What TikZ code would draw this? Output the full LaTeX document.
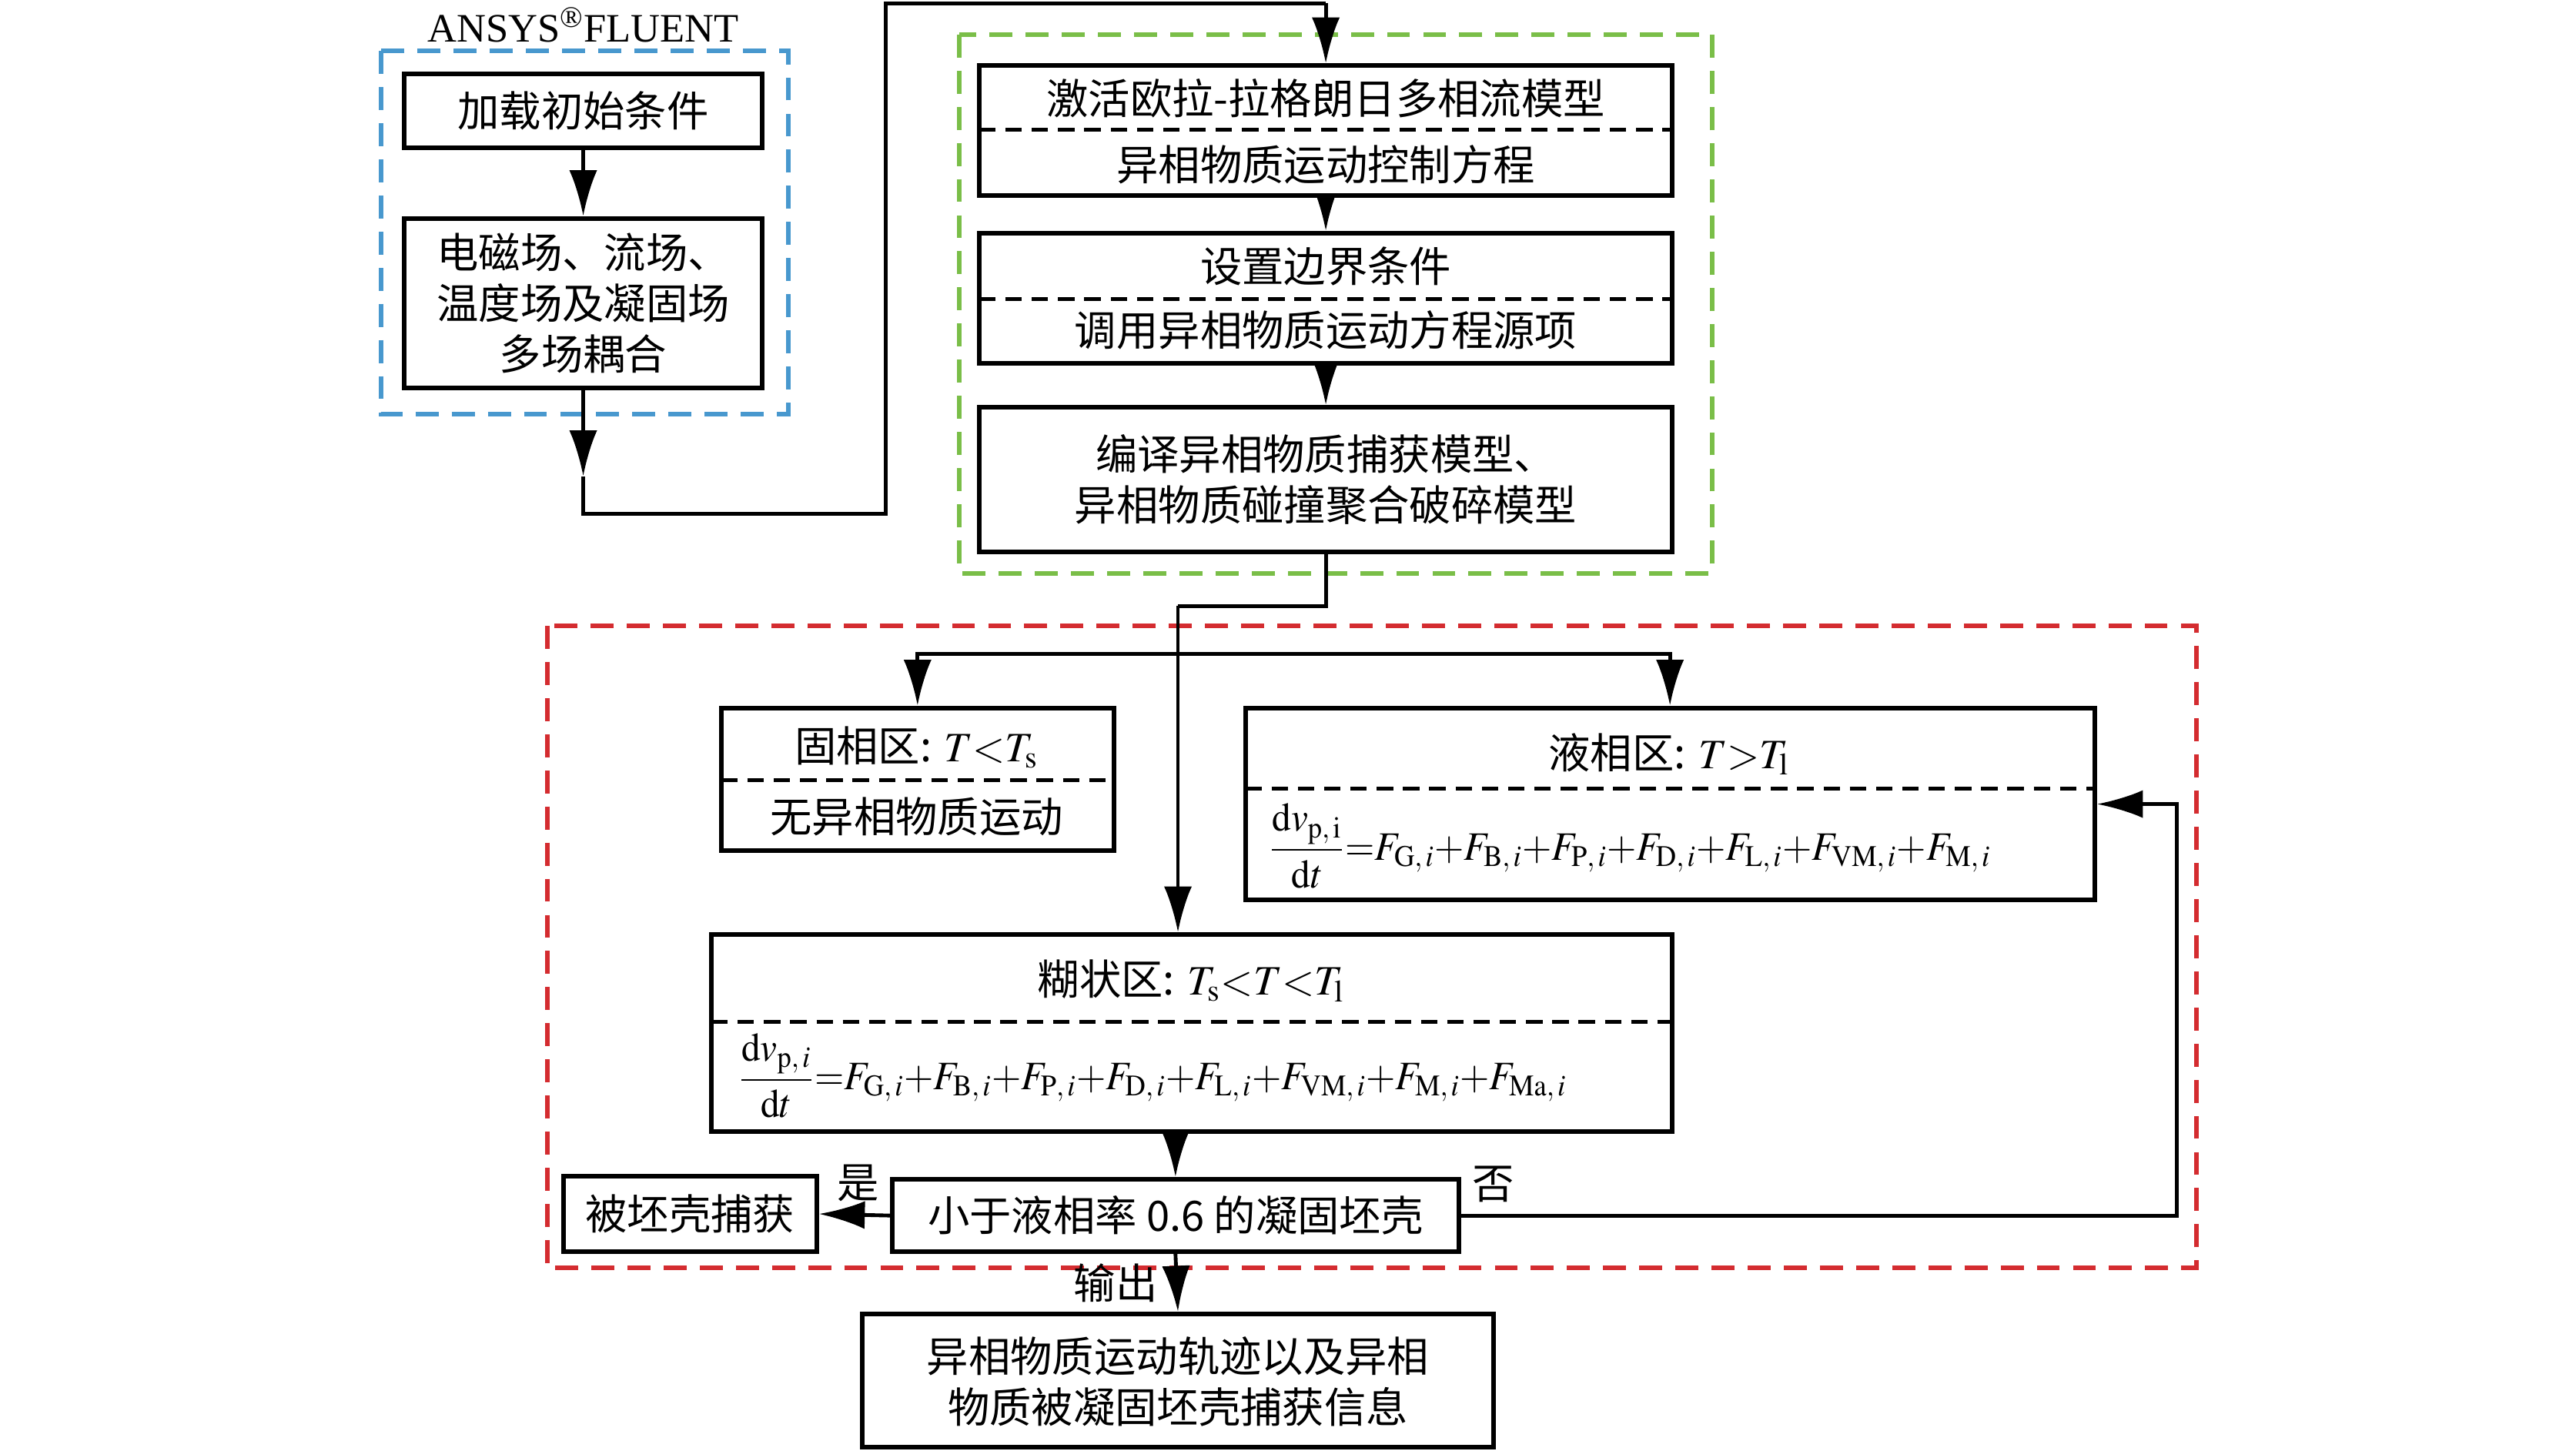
\documentclass[tikz,border=0pt]{standalone}
\usepackage{amsmath}
\usepackage{graphicx}
\usepackage{mathptmx}
\usepackage{fontspec}
\setmainfont{Liberation Serif}
\newfontfamily\cjk{Noto Sans CJK SC}
\usepackage{tikz}
\usetikzlibrary{arrows.meta}
\pgfdeclarelayer{nodelayer}
\pgfdeclarelayer{edgelayer}
\pgfsetlayers{edgelayer,nodelayer,main}
\definecolor{frameblue}{RGB}{72,152,206}
\definecolor{framegreen}{RGB}{122,190,72}
\definecolor{framered}{RGB}{212,44,48}
\tikzstyle{box}=[fill=white, draw=black, shape=rectangle, line width=1.6pt, inner sep=0pt]
\tikzstyle{none}=[fill=none, draw=none, shape=rectangle, inner sep=0pt, align=center, font=\cjk\fontsize{14.5}{17.6}\selectfont]
\tikzstyle{eq}=[fill=none, draw=none, shape=rectangle, inner sep=0pt, anchor=west, font=\fontsize{14}{17}\selectfont]
\tikzstyle{flow edge}=[draw=black, line width=1.3pt, -{Latex[length=0.56cm,width=0.34cm]}]
\tikzstyle{flow line}=[draw=black, line width=1.3pt]
\tikzstyle{split line}=[draw=black, line width=1.4pt, dash pattern=on 0.2cm off 0.12cm]
\tikzstyle{zone frame}=[line width=1.6pt, dash pattern=on 0.28cm off 0.16cm]

\begin{document}
\begin{tikzpicture}[x=0.02cm, y=-0.02cm]
	\useasboundingbox (0,0) rectangle (1568,883);
	\begin{pgfonlayer}{nodelayer}
		% boxes
		\node [style=box, minimum width=4.36cm, minimum height=0.90cm] (0) at (355,67.5) {};
		\node [style=box, minimum width=4.36cm, minimum height=2.06cm] (1) at (355,184.5) {};
		\node [style=box, minimum width=8.44cm, minimum height=1.58cm] (2) at (807,79.5) {};
		\node [style=box, minimum width=8.44cm, minimum height=1.58cm] (3) at (807,181.5) {};
		\node [style=box, minimum width=8.44cm, minimum height=1.76cm] (4) at (807,292) {};
		\node [style=box, minimum width=4.78cm, minimum height=1.74cm] (5) at (558.5,474.5) {};
		\node [style=box, minimum width=10.34cm, minimum height=2.34cm] (6) at (1016.5,489.5) {};
		\node [style=box, minimum width=11.70cm, minimum height=2.40cm] (7) at (725.5,629) {};
		\node [style=box, minimum width=6.90cm, minimum height=0.88cm] (8) at (715.5,740) {};
		\node [style=box, minimum width=3.08cm, minimum height=0.92cm] (9) at (420,739) {};
		\node [style=box, minimum width=7.68cm, minimum height=1.62cm] (10) at (717,840.5) {};
		% texts
		\node [style=none, font=\fontsize{14}{17}\selectfont] (11) at (355,15) {ANSYS\textsuperscript{\textregistered}FLUENT};
		\node [style=none] (12) at (355,67.5) {加载初始条件};
		\node [style=none] (13) at (355,184.5) {电磁场、流场、\\温度场及凝固场\\多场耦合};
		\node [style=none] (14) at (807,60) {激活欧拉-拉格朗日多相流模型};
		\node [style=none] (15) at (807,100) {异相物质运动控制方程};
		\node [style=none] (16) at (807,162) {设置边界条件};
		\node [style=none] (17) at (807,201) {调用异相物质运动方程源项};
		\node [style=none] (18) at (807,292) {编译异相物质捕获模型、\\异相物质碰撞聚合破碎模型};
		\node [style=none] (19) at (558,455) {固相区: $T{<}T_{\mathrm{s}}$};
		\node [style=none] (20) at (558,497) {无异相物质运动};
		\node [style=none] (21) at (1016,459) {液相区: $T{>}T_{\mathrm{l}}$};
		\node [style=eq] (22) at (772,515) {\scalebox{0.94}[1]{$\dfrac{\mathrm{d}v_{\mathrm{p},\,\mathrm{i}}}{\mathrm{d}t}{=}F_{\mathrm{G},\,i}{+}F_{\mathrm{B},\,i}{+}F_{\mathrm{P},\,i}{+}F_{\mathrm{D},\,i}{+}F_{\mathrm{L},\,i}{+}F_{\mathrm{VM},\,i}{+}F_{\mathrm{M},\,i}$}};
		\node [style=none] (23) at (725,597) {糊状区: $T_{\mathrm{s}}{<}T{<}T_{\mathrm{l}}$};
		\node [style=eq] (24) at (449,655) {\scalebox{0.94}[1]{$\dfrac{\mathrm{d}v_{\mathrm{p},\,i}}{\mathrm{d}t}{=}F_{\mathrm{G},\,i}{+}F_{\mathrm{B},\,i}{+}F_{\mathrm{P},\,i}{+}F_{\mathrm{D},\,i}{+}F_{\mathrm{L},\,i}{+}F_{\mathrm{VM},\,i}{+}F_{\mathrm{M},\,i}{+}F_{\mathrm{Ma},\,i}$}};
		\node [style=none] (25) at (715.5,740) {小于液相率 0.6 的凝固坯壳};
		\node [style=none] (26) at (420,739) {被坯壳捕获};
		\node [style=none] (27) at (717,841) {异相物质运动轨迹以及异相\\物质被凝固坯壳捕获信息};
		% bends
		\coordinate (28) at (355,290);
		\coordinate (29) at (539,313);
		\coordinate (30) at (807,2);
		\coordinate (31) at (807,369);
		\coordinate (32) at (717,369);
		\coordinate (33) at (717,398);
		\coordinate (34) at (1325,740);
	\end{pgfonlayer}
	\begin{pgfonlayer}{edgelayer}
		\draw [style=zone frame, draw=frameblue] (232,31) rectangle (480,252);
		\draw [style=zone frame, draw=framegreen] (584,21) rectangle (1042,349);
		\draw [style=zone frame, draw=framered] (333,381) rectangle (1337,772);
		\draw [style=flow edge] (0) to (1);
		\draw [style=flow edge] (1) to (28);
		\draw [style=flow line] (28) |- (29) |- (30);
		\draw [style=flow edge] (30) to (2);
		\draw [style=flow edge] (2) to (3);
		\draw [style=flow edge] (3) to (4);
		\draw [style=flow line] (4.south) -- (31) -- (32);
		\draw [style=flow edge] (32) -- (32 |- 7.north);
		\draw [style=flow edge] (33) -| (5.north);
		\draw [style=flow edge] (33) -| (6.north);
		\draw [style=flow edge] (8.north |- 7.south) -- (8.north);
		\draw [style=flow edge] (8.west) to node [style=none, above=4pt, pos=0.45] {是} (9.east);
		\draw [style=flow edge] (8.east) -- node [style=none, above=4pt, pos=0.045] {否} (34) |- (6.east);
		\draw [style=flow edge] (8.south) to node [style=none, left=6pt] {输出} (10.north);
	\end{pgfonlayer}
	\begin{pgfonlayer}{main}
		\draw [style=split line] (596,79) -- (1018,79);
		\draw [style=split line] (596,182) -- (1018,182);
		\draw [style=split line] (439,475) -- (678,475);
		\draw [style=split line] (758,480) -- (1275,480);
		\draw [style=split line] (433,622) -- (1018,622);
	\end{pgfonlayer}
\end{tikzpicture}
\end{document}
